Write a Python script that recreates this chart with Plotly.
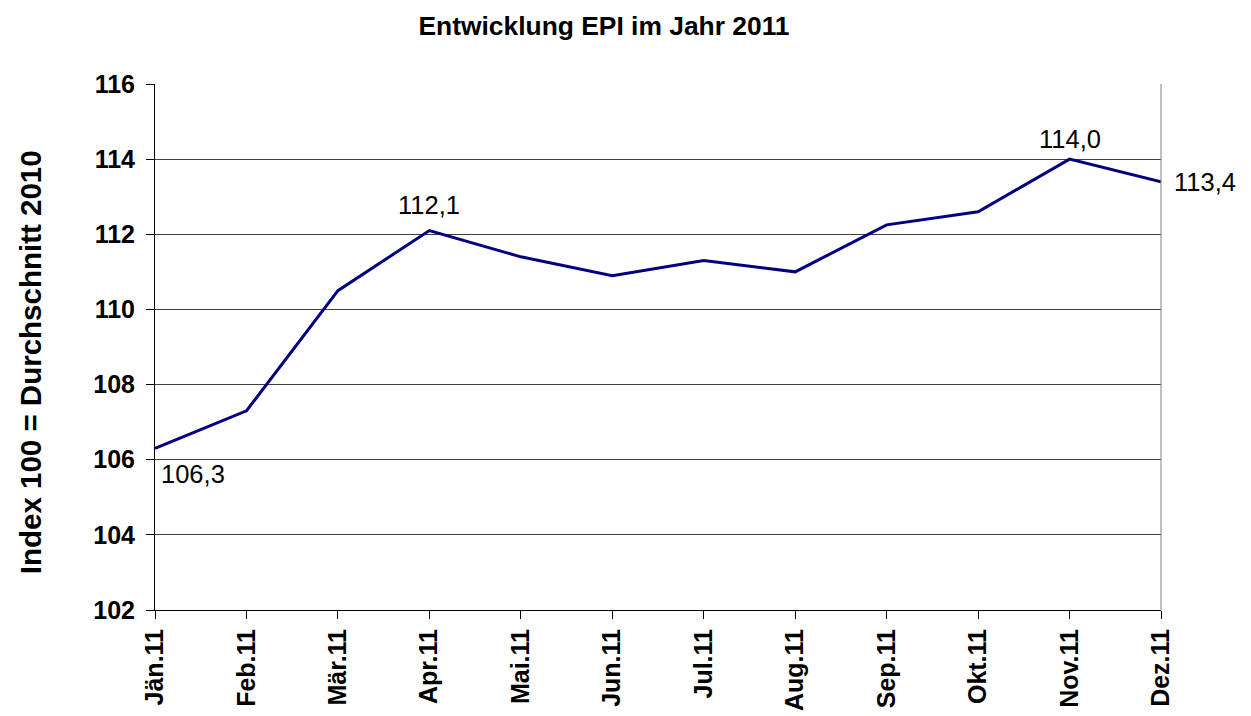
import plotly.graph_objects as go

months = ["Jän.11", "Feb.11", "Mär.11", "Apr.11", "Mai.11", "Jun.11",
          "Jul.11", "Aug.11", "Sep.11", "Okt.11", "Nov.11", "Dez.11"]
epi = [106.3, 107.3, 110.5, 112.1, 111.4, 110.9, 111.3, 111.0, 112.25, 112.6, 114.0, 113.4]
y_ticks = [102, 104, 106, 108, 110, 112, 114, 116]
labelled = {0: ("left", "top", 4, -10), 3: ("center", "bottom", 0, 10),
            10: ("center", "bottom", 0, 4), 11: ("left", "middle", 11, 0)}

FONT = "Liberation Sans, Arial, sans-serif"
OFF = 8  # default page body margin

fig = go.Figure()
fig.add_trace(go.Scatter(x=months, y=epi, mode="lines",
                         line=dict(color="#000080", width=3), hoverinfo="skip",
                         showlegend=False))

annotations = []
for i, (xa, ya, xs, ys) in labelled.items():
    annotations.append(dict(x=months[i], y=epi[i], xref="x", yref="y",
                            text=f"{epi[i]:.1f}".replace(".", ","), showarrow=False,
                            xanchor=xa, yanchor=ya, xshift=xs, yshift=ys,
                            font=dict(family=FONT, size=25.5, color="black")))
annotations.append(dict(x=(30 - 155) / 1006, y=(610 - 362) / 526.5, xref="paper", yref="paper",
                        text="Index 100 = Durchschnitt 2010", textangle=-90, showarrow=False,
                        xanchor="center", yanchor="middle",
                        font=dict(family=FONT, size=29.5, color="black", weight="bold")))

W, H = 1251 - OFF, 716 - OFF
fig.update_layout(
    width=W, height=H,
    margin=dict(l=155 - OFF, r=90, t=83.5 - OFF, b=106, pad=0, autoexpand=False),
    paper_bgcolor="white", plot_bgcolor="white",
    title=dict(text="Entwicklung EPI im Jahr 2011", x=(604 - OFF) / W, xref="container",
               xanchor="center", y=1 - (26 - OFF) / H, yref="container", yanchor="middle",
               font=dict(family=FONT, size=26.4, color="black", weight="bold")),
    annotations=annotations,
    shapes=[dict(type="line", xref="paper", yref="paper", x0=1, x1=1, y0=0, y1=1,
                 line=dict(color="#808080", width=1))],
)
fig.update_xaxes(type="category", range=[0, 11], showgrid=False, showline=True,
                 linecolor="black", linewidth=1, ticks="outside", ticklen=8,
                 tickcolor="black", tickangle=-90, automargin=False,
                 tickfont=dict(family=FONT, size=25, color="black", weight="bold"))
fig.update_yaxes(range=[102, 116], tickvals=y_ticks, showgrid=True, gridcolor="#404040",
                 gridwidth=1, showline=True, linecolor="black", linewidth=1,
                 ticks="outside", ticklen=8, tickcolor="black", zeroline=False,
                 ticklabelstandoff=6, automargin=False,
                 tickfont=dict(family=FONT, size=25, color="black", weight="bold"))

fig.write_html("out.html")
